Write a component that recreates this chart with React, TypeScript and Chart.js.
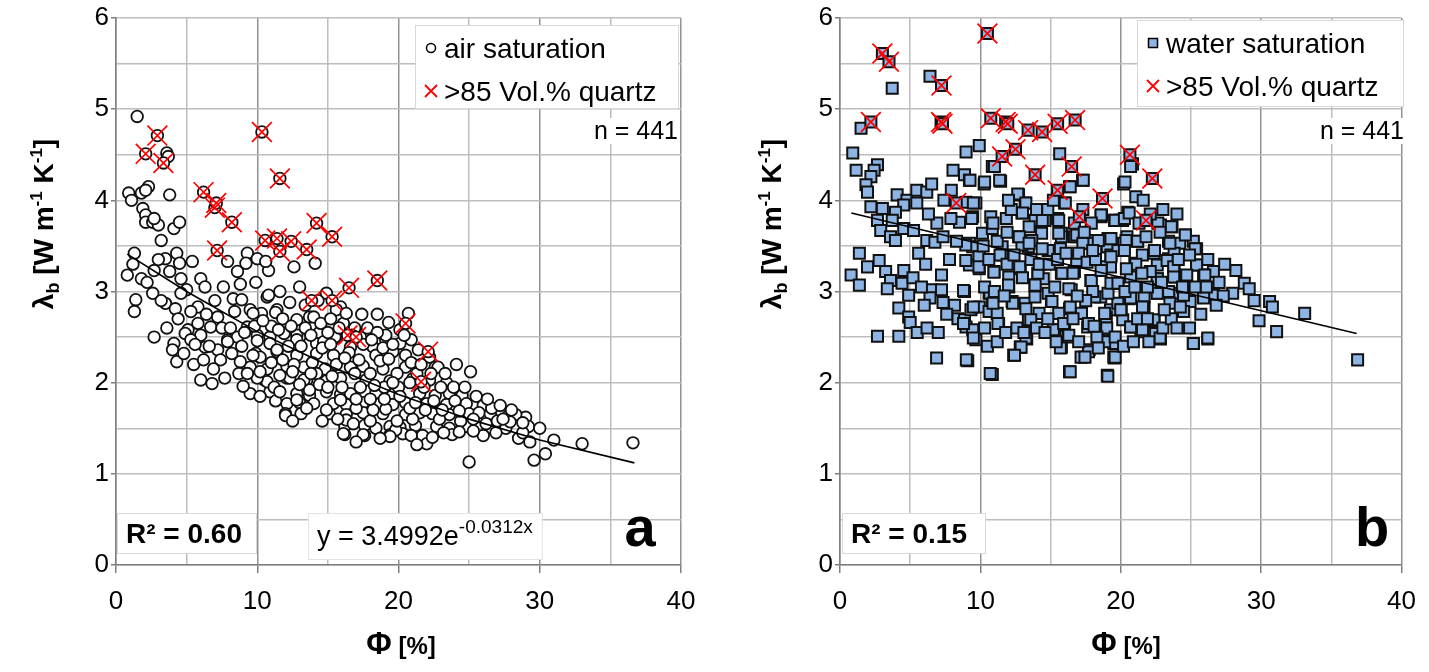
import React, { useEffect, useRef } from 'react';
import { Chart, registerables } from 'chart.js';

Chart.register(...registerables);

const FONT = "'Liberation Sans', Arial, sans-serif";

// ---------- tick labels ----------
const xTickValues = [0, 10, 20, 30, 40];
const yTickValues = [0, 1, 2, 3, 4, 5, 6];

// ---------- labels ----------
const airLabel = 'air saturation';
const waterLabel = 'water saturation';
const quartzLabel = '>85 Vol.% quartz';
const sampleCount = 'n = 441';
const airR2 = 'R² = 0.60';
const waterR2 = 'R² = 0.15';
const airEqBase = 'y = 3.4992e';
const airEqExp = '-0.0312x';

// ---------- panel a: air saturation (Φ %, λb) ----------
const airPoints: [number, number][] = [
  [1.5, 4.92], [3.6, 4.52], [3.7, 4.48], [0.9, 4.08], [1.1, 4.0], [1.8, 4.08], [2.3, 4.15], [2.1, 4.11], [3.8, 4.06],
  [1.9, 3.91], [2.1, 3.84], [2.1, 3.76], [2.6, 3.76], [3.0, 3.73], [2.7, 3.8], [4.1, 3.69], [4.5, 3.76], [3.2, 3.56], [1.3, 3.42],
  [0.8, 3.18], [1.8, 3.14], [2.7, 3.23], [3.5, 3.36], [4.3, 3.42], [3.8, 3.22], [4.5, 3.31], [5.4, 3.33], [4.6, 3.14],
  [2.6, 2.98], [1.4, 2.91], [1.3, 2.78], [3.5, 2.87], [4.2, 2.81], [5.0, 3.02], [6.0, 3.14], [6.3, 3.05], [5.8, 2.83], [5.3, 2.78], [2.7, 2.5],
  [9.3, 3.42], [9.2, 3.31], [8.6, 3.22], [7.9, 3.33], [10.0, 3.36], [10.8, 3.23], [12.6, 3.27], [14.1, 3.31], [10.6, 3.33], [13.0, 3.05],
  [8.3, 2.92], [8.9, 2.91], [9.5, 2.8], [10.7, 2.94], [11.4, 2.8], [10.3, 2.76], [7.2, 2.72], [6.7, 2.61], [5.1, 2.58], [6.0, 2.52], [7.9, 2.47], [9.3, 2.61], [8.6, 2.5],
  [12.8, 2.69], [13.7, 2.72], [14.9, 2.98], [15.9, 2.83], [16.1, 2.65], [13.0, 2.5], [14.2, 2.43], [15.6, 2.49], [16.6, 2.39], [18.2, 2.39], [19.1, 2.47], [20.1, 2.43], [20.7, 2.76], [20.1, 2.58],
  [10.8, 2.96], [11.3, 2.77], [9.7, 2.76], [14.0, 2.72], [15.6, 2.8], [16.3, 2.76],
  [10.0, 2.52], [10.9, 2.5], [12.8, 2.52], [14.4, 2.55], [15.5, 2.5], [17.3, 2.5], [19.1, 2.52], [20.9, 2.47],
  [9.9, 2.32], [11.4, 2.34], [12.8, 2.3], [14.2, 2.32], [15.4, 2.3], [16.5, 2.33], [18.4, 2.3], [19.6, 2.34], [20.5, 2.3], [22.2, 2.28],
  [9.5, 2.17], [10.7, 2.15], [12.1, 2.18], [13.3, 2.17], [14.8, 2.15], [16.6, 2.17], [17.5, 2.18], [18.9, 2.15], [20.5, 2.17], [22.6, 2.17], [24.1, 2.2], [25.1, 2.12], [22.8, 2.17],
  [10.5, 2.03], [12.1, 2.05], [13.5, 2.03], [14.9, 2.02], [15.9, 2.05], [17.7, 2.03], [19.4, 2.02], [21.0, 2.04], [22.2, 2.03], [23.4, 2.0],
  [9.5, 1.88], [10.9, 1.9], [12.8, 1.88], [13.7, 1.86], [14.9, 1.9], [15.9, 1.87], [16.6, 1.88], [18.4, 1.89], [19.6, 1.87], [21.5, 1.88], [22.6, 1.86], [23.6, 1.88], [24.5, 1.86],
  [12.1, 1.77], [13.0, 1.78], [15.4, 1.77], [16.3, 1.76], [17.5, 1.78], [18.7, 1.77], [19.6, 1.76], [20.5, 1.78], [22.0, 1.77], [23.4, 1.76], [24.8, 1.77], [26.0, 1.75],
  [12.0, 1.66], [13.1, 1.66], [15.1, 1.66], [16.3, 1.65], [17.5, 1.67], [18.9, 1.66], [20.5, 1.65], [21.5, 1.67], [22.4, 1.66], [23.6, 1.65], [25.0, 1.66], [25.7, 1.67], [26.5, 1.66], [27.8, 1.64], [29.0, 1.62], [26.6, 1.72], [28.3, 1.65],
  [16.2, 1.52], [17.6, 1.53], [18.4, 1.5], [19.4, 1.52], [20.1, 1.51], [21.2, 1.53], [22.7, 1.52], [23.6, 1.5], [24.8, 1.52], [26.6, 1.5], [29.2, 1.52],
  [16.2, 1.43], [17.6, 1.42], [19.4, 1.43], [20.3, 1.44], [21.7, 1.42], [23.8, 1.43], [26.0, 1.42],
  [22.0, 1.33], [28.5, 1.39], [29.3, 1.35], [31.0, 1.37], [30.4, 1.22], [29.6, 1.15], [33.0, 1.33], [36.6, 1.34], [25.0, 1.13],
  [4.1, 2.43], [4.0, 2.36], [4.3, 2.23], [4.9, 2.54], [5.3, 2.47], [4.8, 2.32], [6.3, 2.39], [7.2, 2.36], [7.9, 2.45], [8.2, 2.32], [8.8, 2.23], [7.4, 2.25],
  [6.0, 2.03], [6.8, 1.99], [8.7, 2.1], [9.0, 1.96], [10.2, 2.28], [10.7, 2.01], [10.0, 2.46], [10.9, 2.43], [11.4, 2.36],
  [12.0, 1.64], [12.8, 1.81], [14.0, 1.77], [13.7, 1.92], [12.3, 2.05], [13.3, 2.03], [16.1, 1.44], [17.5, 1.43], [19.8, 1.48], [19.4, 1.41], [16.3, 1.59], [14.9, 1.7], [15.9, 1.81],
  [14.7, 2.45], [12.8, 2.47], [11.9, 2.54],
  [11.0, 2.62], [11.8, 2.7], [12.2, 2.4], [13.4, 2.6], [14.5, 2.65], [15.0, 2.55], [16.9, 2.6], [17.8, 2.6], [18.5, 2.55], [17.2, 2.25], [18.0, 2.1], [19.0, 1.95], [20.0, 1.95],
  [21.3, 2.1], [21.8, 1.95], [23.0, 1.95], [24.0, 1.8], [25.3, 1.6], [26.2, 1.55], [27.0, 1.58], [27.6, 1.5], [28.8, 1.45], [24.4, 1.58], [22.9, 1.6], [21.0, 1.6], [19.9, 1.58],
  [18.0, 1.58], [17.0, 1.72], [16.0, 1.95], [15.3, 2.07], [14.2, 2.1], [13.9, 2.22], [12.6, 2.2], [11.6, 2.08], [11.2, 1.95], [10.0, 2.05], [9.7, 2.3], [8.9, 2.4], [7.5, 2.6],
  [6.6, 2.4], [5.8, 2.65], [5.5, 2.2], [3.2, 2.9], [2.2, 3.1], [3.0, 3.35], [1.2, 3.3],
  [9.1, 2.55], [9.8, 2.62], [10.4, 2.68], [11.5, 2.58], [12.4, 2.62], [13.1, 2.4], [13.8, 2.52], [14.6, 2.38], [15.2, 2.42], [15.8, 2.6], [16.7, 2.52],
  [17.5, 2.42], [18.1, 2.47], [18.9, 2.38], [19.6, 2.42], [20.4, 2.52], [21.4, 2.36],
  [9.3, 2.1], [10.2, 2.12], [11.0, 2.22], [11.8, 2.25], [12.5, 2.12], [13.0, 1.98], [13.8, 2.1], [14.4, 1.98], [15.0, 1.95], [15.6, 2.2], [16.2, 2.27],
  [16.9, 2.1], [17.3, 1.95], [18.3, 1.97], [18.7, 2.24], [19.3, 2.26], [19.9, 2.1], [20.9, 2.22], [21.6, 2.2], [22.3, 2.1], [23.3, 2.1], [23.9, 1.95],
  [24.7, 1.95], [25.5, 1.85], [26.3, 1.82], [27.2, 1.75], [28.0, 1.7], [28.8, 1.56], [27.9, 1.57], [30.0, 1.5], [24.3, 1.69], [23.1, 1.7], [21.9, 1.7],
  [20.8, 1.72], [19.1, 1.71], [18.2, 1.7], [16.8, 1.55], [15.7, 1.6], [14.6, 1.58], [13.5, 1.72], [12.5, 1.58], [11.3, 1.8], [10.2, 1.85], [11.6, 1.9],
  [17.0, 1.82], [18.0, 1.82], [19.0, 1.82], [20.1, 1.85], [21.2, 1.78], [22.5, 1.8], [23.2, 1.45], [24.3, 1.46], [25.3, 1.47], [22.4, 1.4], [20.9, 1.42],
  [18.7, 1.39], [17.0, 1.35], [21.3, 1.32], [26.9, 1.45], [27.4, 1.6],
  [3.6, 2.6], [4.4, 2.7], [4.6, 2.98], [5.6, 2.42], [6.2, 2.25], [6.9, 2.15], [7.7, 2.05], [8.1, 2.6], [8.4, 2.78], [7.0, 2.9], [6.4, 2.75], [7.6, 3.05],
  [8.8, 3.08], [9.9, 3.1], [11.6, 3.0], [12.3, 2.88], [13.4, 2.85], [14.3, 2.9], [15.2, 2.7], [17.4, 2.75], [18.5, 2.75], [19.3, 2.66], [20.8, 2.0], [19.6, 2.0],
];

const airQuartzPoints: [number, number][] = [
  [2.1, 4.51], [2.93, 4.71], [3.36, 4.41], [10.33, 4.75], [11.6, 4.24], [6.2, 4.09], [7.0, 3.92], [7.1, 3.97], [8.2, 3.76],
  [7.16, 3.45], [10.56, 3.56], [11.4, 3.58], [11.6, 3.44], [12.4, 3.55], [13.5, 3.46], [14.2, 3.75], [15.3, 3.6],
  [13.85, 2.9], [15.3, 2.9], [16.5, 3.04], [18.5, 3.12], [16.4, 2.52], [17.0, 2.5], [20.5, 2.65], [22.1, 2.34], [21.6, 2.01],
];

const airTrendPoints: [number, number][] = [
  [0.8, 3.41], [5, 3.0], [10, 2.56], [15, 2.19], [20, 1.87], [25, 1.6], [30, 1.37], [36.7, 1.12],
];

// ---------- panel b: water saturation ----------
const waterPoints: [number, number][] = [
  [6.41, 5.36], [3.72, 5.23], [1.5, 4.79], [0.91, 4.52], [1.15, 4.33], [2.67, 4.39], [2.43, 4.33], [2.2, 4.26], [1.85, 4.17], [1.96, 4.09],
  [8.98, 4.53], [9.92, 4.6], [8.05, 4.33], [8.87, 4.28], [9.22, 4.22], [10.27, 4.18], [11.44, 4.21], [10.85, 4.37], [7.93, 4.11],
  [15.65, 4.51], [17.28, 4.22], [16.35, 4.15], [12.72, 4.06], [20.2, 4.18],
  [4.07, 4.06], [4.77, 4.0], [5.47, 4.11], [6.18, 4.09], [6.53, 4.18], [4.54, 3.95], [2.2, 3.93], [3.02, 3.91], [3.95, 3.87], [5.47, 3.97],
  [8.98, 3.98], [9.68, 3.97], [13.19, 3.97], [16.0, 3.97],
  [2.67, 3.78], [3.72, 3.78], [4.54, 3.69], [5.24, 3.67], [8.51, 3.76], [9.45, 3.82], [10.74, 3.82], [12.96, 3.86], [13.9, 3.78], [14.6, 3.78],
  [15.5, 3.8], [16.7, 3.75], [18.6, 3.82], [20.0, 3.78],
  [2.9, 3.67], [3.6, 3.6], [3.95, 3.56], [6.18, 3.56], [6.76, 3.54], [7.34, 3.6], [9.22, 3.53], [10.15, 3.64], [10.85, 3.69], [11.55, 3.49],
  [12.72, 3.6], [13.42, 3.49], [14.36, 3.64], [15.77, 3.64], [16.9, 3.6], [18.1, 3.56], [19.0, 3.49], [20.2, 3.53],
  [1.38, 3.42], [2.79, 3.34], [1.96, 3.27], [0.79, 3.18], [1.38, 3.07], [3.25, 3.22], [3.6, 3.12], [4.54, 3.23], [4.42, 3.09], [4.89, 2.96],
  [3.37, 3.03], [4.19, 2.82], [4.89, 2.72], [5.0, 2.66], [2.67, 2.51], [4.19, 2.51], [6.88, 2.27], [9.1, 2.24], [10.85, 2.09],
  [7.23, 3.18], [6.53, 3.02], [7.23, 3.02], [6.41, 2.93], [7.34, 2.88], [8.16, 2.85], [8.87, 3.0], [8.4, 2.7], [8.87, 2.69], [8.98, 2.61],
  [9.68, 2.47], [9.45, 2.58], [9.33, 2.8], [9.92, 2.83], [10.62, 2.98], [10.85, 2.89], [10.62, 2.78], [11.2, 2.76], [11.3, 2.65],
  [9.45, 3.49], [9.92, 3.38], [9.92, 3.25], [9.22, 3.29], [10.97, 3.22], [11.55, 3.4], [12.02, 3.16], [12.96, 3.51], [12.84, 3.25], [12.02, 3.05],
  [14.1, 3.2], [13.89, 3.07], [14.48, 3.14], [12.26, 2.89], [13.19, 2.87], [13.42, 2.69], [13.89, 2.94], [14.83, 2.98], [15.06, 2.89],
  [15.77, 3.2], [16.7, 3.22], [16.47, 3.02], [16.35, 2.81], [16.0, 2.63], [15.3, 2.58], [15.77, 2.39], [16.24, 2.5], [17.64, 2.61],
  [17.75, 2.36], [17.17, 2.28], [19.27, 2.8], [18.8, 2.58], [19.5, 2.43], [19.5, 2.28], [19.04, 2.08], [16.35, 2.12], [13.3, 2.48],
  [12.84, 2.39], [12.37, 2.3],
  [13.66, 3.56], [14.83, 3.45], [15.77, 3.6], [16.7, 3.6], [17.64, 3.53], [18.57, 3.56], [19.04, 3.49], [19.97, 3.45], [20.44, 3.6],
  [19.27, 3.27], [19.74, 3.09], [20.44, 2.94], [17.87, 3.12], [18.57, 2.94],
  [21.07, 4.04], [20.84, 4.4], [20.5, 3.87], [18.62, 3.84], [19.56, 3.78], [20.14, 3.78], [22.83, 3.73], [23.65, 3.71], [24.6, 3.62],
  [25.17, 3.55], [25.4, 3.47], [23.4, 3.55], [24.2, 3.53], [19.09, 3.58], [20.37, 3.56], [21.2, 3.55], [22.37, 3.42], [23.4, 3.36],
  [19.3, 3.4], [21.0, 3.31], [25.4, 3.29], [26.6, 3.22], [25.9, 3.18], [23.8, 3.27], [23.8, 3.18], [22.6, 3.14], [19.8, 3.09], [18.62, 3.27],
  [28.2, 3.23], [28.8, 3.09], [29.15, 3.03], [27.97, 2.98], [29.5, 2.9], [30.6, 2.89], [30.8, 2.83], [33.1, 2.76], [29.85, 2.68], [31.1, 2.56],
  [36.87, 2.25], [26.2, 2.48], [25.17, 2.43], [22.83, 2.48], [19.56, 2.27], [18.85, 2.45],
  [24.2, 2.98], [24.94, 2.89], [24.47, 2.78], [26.6, 2.96], [25.9, 2.94], [22.6, 2.98], [21.66, 2.94], [20.6, 2.92], [19.79, 2.87], [19.09, 2.98],
  [18.97, 2.58], [20.14, 2.69], [20.73, 2.61], [21.66, 2.83], [22.37, 2.67], [21.43, 2.56], [22.48, 2.54], [20.03, 2.8], [18.97, 2.72],
  [23.41, 3.0], [23.9, 3.16], [22.6, 3.29], [19.8, 3.45], [21.54, 3.4], [23.8, 3.42],
  [11.0, 4.37], [11.37, 4.22], [10.3, 4.2], [9.26, 4.22], [17.33, 4.22], [20.3, 4.2], [20.7, 4.37], [12.66, 4.07], [13.24, 3.97], [13.0, 3.86],
  [14.41, 3.78], [15.58, 3.78], [16.05, 3.97], [16.4, 4.15], [18.6, 3.84], [19.6, 3.78], [20.26, 3.8], [20.6, 3.86], [9.5, 3.97], [9.38, 3.8],
  [10.9, 3.75], [11.85, 3.8], [13.47, 3.71], [22.64, 3.75], [23.6, 3.71], [22.8, 3.65], [24.6, 3.62], [25.3, 3.47],
  [8.96, 3.51], [9.9, 3.38], [11.4, 3.4], [12.77, 3.6], [13.47, 3.53], [14.4, 3.47], [15.7, 3.47], [16.86, 3.62], [17.3, 3.53], [15.58, 3.64],
  [18.4, 3.56], [19.3, 3.58], [21.2, 3.55], [22.4, 3.45], [20.26, 3.45], [19.3, 3.38], [23.5, 3.53], [23.3, 3.34], [23.77, 3.27], [25.4, 3.29], [21.07, 3.3],
  [8.96, 3.34], [9.9, 3.27], [10.97, 3.21], [12.0, 3.07], [12.8, 3.27], [14.1, 3.2], [13.9, 3.07], [15.82, 3.2], [16.6, 3.2], [16.86, 3.34],
  [16.3, 3.03], [17.9, 3.12], [19.3, 3.09], [19.8, 3.09], [20.7, 3.16], [22.6, 3.14], [23.77, 3.16], [24.7, 3.18], [25.99, 3.18], [25.9, 2.93],
  [24.47, 2.96], [18.6, 3.23],
  [8.8, 3.01], [9.5, 2.83], [10.67, 2.98], [10.9, 2.87], [12.3, 2.87], [13.24, 2.81], [14.18, 2.76], [15.1, 2.89], [15.58, 2.76], [16.4, 2.83],
  [17.2, 2.76], [18.15, 2.94], [18.85, 2.76], [20.0, 2.8], [20.7, 2.93], [21.55, 2.83], [22.6, 2.98], [22.36, 2.69], [23.5, 2.87], [24.24, 2.83],
  [8.8, 2.65], [9.5, 2.49], [11.25, 2.65], [13.59, 2.69], [15.2, 2.58], [15.93, 2.65], [16.3, 2.52], [17.7, 2.65], [19.0, 2.6], [19.6, 2.5],
  [20.7, 2.61], [21.55, 2.58], [22.8, 2.49], [25.17, 2.43], [26.2, 2.49],
  [13.24, 2.49], [12.9, 2.39], [12.43, 2.3], [9.0, 2.25], [10.7, 2.1], [15.7, 2.38], [17.7, 2.34], [17.45, 2.28], [19.6, 2.28], [16.4, 2.12], [19.08, 2.07],
  [5.6, 3.42], [6.1, 3.3], [5.2, 3.15], [5.8, 3.05], [6.0, 2.85], [5.5, 2.55], [6.2, 2.6], [7.0, 2.55], [7.6, 2.75], [7.8, 3.35], [8.3, 3.55],
  [7.9, 3.8], [6.9, 3.75], [6.3, 3.85], [7.4, 4.0],
  [10.3, 3.05], [11.0, 3.0], [11.7, 2.95], [11.9, 3.3], [12.4, 3.4], [13.0, 3.15], [13.6, 3.35], [14.2, 3.3], [14.9, 3.3], [15.3, 3.05], [15.5, 3.35],
  [16.1, 3.42], [17.0, 3.42], [17.6, 3.32], [18.2, 3.35], [18.0, 3.0], [17.5, 2.9], [16.9, 2.95],
  [10.3, 2.6], [10.5, 2.4], [11.2, 2.45], [11.8, 2.55], [12.6, 2.6], [13.1, 2.55], [14.0, 2.6], [14.6, 2.55], [14.8, 2.7], [15.4, 2.45], [16.6, 2.7],
  [17.0, 2.45], [18.3, 2.5], [18.4, 2.38], [18.1, 2.62], [20.2, 2.4], [20.9, 2.45], [21.2, 2.7], [21.9, 2.7], [22.0, 2.45], [23.0, 2.6], [23.6, 2.7],
  [24.0, 2.6], [24.9, 2.6], [23.1, 2.8],
  [20.3, 3.0], [21.0, 3.05], [21.9, 3.05], [22.1, 3.22], [21.5, 3.2], [20.4, 3.25], [22.9, 3.1], [24.4, 3.05], [25.3, 3.05], [26.1, 3.05], [27.0, 3.1],
  [27.3, 2.95], [26.8, 2.85], [25.7, 2.75], [24.1, 3.35], [24.9, 3.4], [26.2, 3.35], [27.4, 3.3],
  [10.2, 3.5], [10.6, 3.35], [11.2, 3.55], [11.9, 3.65], [12.2, 3.9], [12.0, 4.0], [14.0, 3.9], [14.8, 3.9], [15.2, 4.0], [17.3, 3.9], [17.9, 3.75],
  [17.4, 3.65], [18.0, 3.45], [21.3, 3.75], [21.8, 3.6], [22.1, 3.85], [23.0, 3.9], [24.0, 3.85], [21.6, 4.0],
];

const waterQuartzPoints: [number, number][] = [
  [3.02, 5.61], [3.49, 5.52], [10.5, 5.83], [7.23, 5.26], [2.2, 4.86], [7.2, 4.86], [7.3, 4.84], [10.74, 4.9], [11.8, 4.86], [11.95, 4.84],
  [13.4, 4.77], [14.4, 4.75], [15.5, 4.84], [16.75, 4.88], [12.5, 4.56], [11.55, 4.48], [16.5, 4.37], [13.9, 4.28], [15.5, 4.11],
  [18.7, 4.02], [8.28, 3.97], [17.05, 3.82], [20.65, 4.5], [22.25, 4.24], [21.8, 3.78],
];

const waterTrendPoints: [number, number][] = [
  [0.8, 3.86], [36.8, 2.54],
];

// ---------- helpers ----------
type Run = { t: string; size: number; bold?: boolean; dy?: number };

function runFont(r: Run) {
  return `${r.bold ? 'bold ' : ''}${r.size}px ${FONT}`;
}

function runsWidth(ctx: CanvasRenderingContext2D, runs: Run[]) {
  let total = 0;
  for (const r of runs) {
    ctx.font = runFont(r);
    total += ctx.measureText(r.t).width;
  }
  return total;
}

function drawRuns(ctx: CanvasRenderingContext2D, runs: Run[], x: number, y: number, align: 'left' | 'center' | 'right') {
  const total = runsWidth(ctx, runs);
  let cx = align === 'left' ? x : align === 'center' ? x - total / 2 : x - total;
  ctx.textAlign = 'left';
  ctx.textBaseline = 'alphabetic';
  for (const r of runs) {
    ctx.font = runFont(r);
    ctx.fillText(r.t, cx, y + (r.dy || 0));
    cx += ctx.measureText(r.t).width;
  }
}

interface PanelSpec {
  id: string;
  width: number;
  areaLeft: number;
  areaRight: number;
  main: [number, number][];
  quartz: [number, number][];
  trend: [number, number][];
  mainLabel: string;
  square: boolean;
  legendBox: [number, number, number, number];
  r2: string;
  r2Box: [number, number, number, number];
  eq: boolean;
  letter: string;
  letterX: number;
  yTitleX: number;
  xTitleX: number;
}

const BLUE = '#8DB4E2';

function overlayPlugin(p: PanelSpec) {
  return {
    id: 'overlay_' + p.id,
    afterDraw(chart: any) {
      const ctx: CanvasRenderingContext2D = chart.ctx;
      ctx.save();

      // legend box
      const [lx, ly, lw, lh] = p.legendBox;
      ctx.fillStyle = '#fff';
      ctx.fillRect(lx, ly, lw, lh);
      ctx.strokeStyle = '#D9D9D9';
      ctx.lineWidth = 1;
      ctx.strokeRect(lx + 0.5, ly + 0.5, lw, lh);
      const mx = lx + 16;
      const row1 = ly + 23;
      const row2 = ly + 66;
      if (p.square) {
        ctx.fillStyle = BLUE;
        ctx.fillRect(mx - 4.5, row1 - 4.5, 9, 9);
        ctx.strokeStyle = '#000';
        ctx.lineWidth = 1.5;
        ctx.strokeRect(mx - 4.5, row1 - 4.5, 9, 9);
      } else {
        ctx.beginPath();
        ctx.arc(mx, row1, 4.5, 0, Math.PI * 2);
        ctx.fillStyle = '#fff';
        ctx.fill();
        ctx.strokeStyle = '#000';
        ctx.lineWidth = 1.5;
        ctx.stroke();
      }
      ctx.strokeStyle = '#FF0000';
      ctx.lineWidth = 1.8;
      ctx.beginPath();
      ctx.moveTo(mx - 6, row2 - 6);
      ctx.lineTo(mx + 6, row2 + 6);
      ctx.moveTo(mx + 6, row2 - 6);
      ctx.lineTo(mx - 6, row2 + 6);
      ctx.stroke();
      ctx.fillStyle = '#000';
      drawRuns(ctx, [{ t: p.mainLabel, size: 28 }], mx + 13, row1 + 10, 'left');
      drawRuns(ctx, [{ t: quartzLabel, size: 28 }], mx + 13, row2 + 10, 'left');

      // n = 441
      ctx.font = `25px ${FONT}`;
      const nw = ctx.measureText(sampleCount).width;
      ctx.fillStyle = '#fff';
      ctx.fillRect(p.areaRight - nw - 8, 118, nw + 6, 26);
      ctx.fillStyle = '#000';
      drawRuns(ctx, [{ t: sampleCount, size: 25 }], p.areaRight - 3, 139, 'right');

      // R² box
      const [rx, ry, rw, rh] = p.r2Box;
      ctx.fillStyle = '#fff';
      ctx.fillRect(rx, ry, rw, rh);
      ctx.strokeStyle = '#D9D9D9';
      ctx.lineWidth = 1;
      ctx.strokeRect(rx + 0.5, ry + 0.5, rw, rh);
      ctx.fillStyle = '#000';
      drawRuns(ctx, [{ t: p.r2, size: 28, bold: true }], rx + 9, ry + 30, 'left');

      // equation box
      if (p.eq) {
        const runs: Run[] = [{ t: airEqBase, size: 27 }, { t: airEqExp, size: 19, dy: -12 }];
        const ex = 308, ey = 513, eh = 46;
        const ew = runsWidth(ctx, runs) + 18;
        ctx.fillStyle = '#fff';
        ctx.fillRect(ex, ey, ew, eh);
        ctx.strokeStyle = '#E3E3E3';
        ctx.strokeRect(ex + 0.5, ey + 0.5, ew, eh);
        ctx.fillStyle = '#000';
        drawRuns(ctx, runs, ex + 9, ey + 32, 'left');
      }

      // panel letter
      drawRuns(ctx, [{ t: p.letter, size: 56, bold: true }], p.letterX, 546, 'center');

      // x title
      drawRuns(ctx, [{ t: 'Φ', size: 31, bold: true }, { t: ' [%]', size: 24, bold: true }], p.xTitleX, 654, 'center');

      // y title (rotated)
      ctx.translate(p.yTitleX, 224);
      ctx.rotate(-Math.PI / 2);
      drawRuns(
        ctx,
        [
          { t: 'λ', size: 28, bold: true },
          { t: 'b', size: 18, bold: true, dy: 6 },
          { t: ' [W m', size: 28, bold: true },
          { t: '-1', size: 17, bold: true, dy: -11 },
          { t: ' K', size: 28, bold: true },
          { t: '-1', size: 17, bold: true, dy: -11 },
          { t: ']', size: 28, bold: true },
        ],
        0,
        10,
        'center'
      );
      ctx.restore();
    },
  };
}

function buildConfig(p: PanelSpec): any {
  const toXY = (a: [number, number][]) => a.map(([x, y]) => ({ x, y }));
  const mainData = toXY([...p.main, ...p.quartz]);
  const gridColor = (vals: number[]) => (c: any) =>
    c.tick && vals.includes(c.tick.value) ? '#929292' : '#BDBDBD';
  const tickColor = (vals: number[]) => (c: any) =>
    c.tick && vals.includes(c.tick.value) ? '#7F7F7F' : 'rgba(0,0,0,0)';
  return {
    type: 'scatter',
    data: {
      datasets: [
        {
          label: quartzLabel,
          data: toXY(p.quartz),
          pointStyle: 'crossRot',
          pointRadius: 14,
          borderColor: '#FF0000',
          backgroundColor: 'rgba(0,0,0,0)',
          borderWidth: 1.7,
          order: 0,
        },
        {
          label: 'trend',
          data: toXY(p.trend),
          showLine: true,
          borderColor: '#000',
          borderWidth: 1.6,
          pointRadius: 0,
          fill: false,
          order: 1,
        },
        {
          label: p.mainLabel,
          data: mainData,
          pointStyle: p.square ? 'rect' : 'circle',
          pointRadius: p.square ? 7.8 : 5.8,
          backgroundColor: p.square ? BLUE : '#FFFFFF',
          borderColor: '#111',
          borderWidth: p.square ? 2 : 1.8,
          order: 2,
        },
      ],
    },
    options: {
      responsive: false,
      animation: false,
      events: [],
      layout: { padding: { top: 18, right: p.width - p.areaRight, bottom: 0, left: 0 } },
      plugins: { legend: { display: false }, tooltip: { enabled: false }, title: { display: false } },
      scales: {
        x: {
          type: 'linear',
          min: 0,
          max: 40,
          afterFit: (s: any) => {
            s.height = 107;
          },
          ticks: {
            stepSize: 5,
            autoSkip: false,
            maxRotation: 0,
            padding: 13,
            color: '#000',
            font: { family: FONT, size: 26 },
            callback: (v: number) => (xTickValues.includes(v) ? String(v) : ''),
          },
          grid: {
            color: gridColor(xTickValues),
            lineWidth: 1.5,
            drawTicks: true,
            tickLength: 8,
            tickColor: tickColor(xTickValues),
          },
          border: { display: true, color: '#7F7F7F', width: 1.5 },
        },
        y: {
          type: 'linear',
          min: 0,
          max: 6,
          afterFit: (s: any) => {
            s.width = p.areaLeft;
          },
          ticks: {
            stepSize: 0.5,
            autoSkip: false,
            padding: 2,
            color: '#000',
            font: { family: FONT, size: 26 },
            callback: (v: number) => (yTickValues.includes(v) ? String(v) : ''),
          },
          grid: {
            color: '#BDBDBD',
            lineWidth: 1.5,
            drawTicks: true,
            tickLength: 5,
            tickColor: tickColor(yTickValues),
          },
          border: { display: true, color: '#7F7F7F', width: 1.5 },
        },
      },
    },
    plugins: [overlayPlugin(p)],
  };
}

const panelA: PanelSpec = {
  id: 'a',
  width: 714,
  areaLeft: 116,
  areaRight: 681,
  main: airPoints,
  quartz: airQuartzPoints,
  trend: airTrendPoints,
  mainLabel: airLabel,
  square: false,
  legendBox: [415, 25, 263, 83],
  r2: airR2,
  r2Box: [117, 513, 139, 40],
  eq: true,
  letter: 'a',
  letterX: 640,
  yTitleX: 43,
  xTitleX: 401,
};

const panelB: PanelSpec = {
  id: 'b',
  width: 715,
  areaLeft: 126,
  areaRight: 693,
  main: waterPoints,
  quartz: waterQuartzPoints,
  trend: waterTrendPoints,
  mainLabel: waterLabel,
  square: true,
  legendBox: [423, 20, 266, 86],
  r2: waterR2,
  r2Box: [128, 513, 143, 40],
  eq: false,
  letter: 'b',
  letterX: 658,
  yTitleX: 57,
  xTitleX: 412,
};

function Panel({ spec, left }: { spec: PanelSpec; left: number }) {
  const ref = useRef<HTMLCanvasElement | null>(null);
  useEffect(() => {
    if (!ref.current) return;
    const chart = new Chart(ref.current, buildConfig(spec));
    return () => chart.destroy();
  }, [spec]);
  return (
    <canvas
      ref={ref}
      width={spec.width}
      height={672}
      style={{ position: 'absolute', left, top: 0, width: spec.width, height: 672 }}
    />
  );
}

export default function App() {
  return (
    <div style={{ position: 'fixed', left: 0, top: 0, width: 1429, height: 672, background: '#fff', overflow: 'hidden' }}>
      <Panel spec={panelA} left={0} />
      <Panel spec={panelB} left={714} />
    </div>
  );
}
